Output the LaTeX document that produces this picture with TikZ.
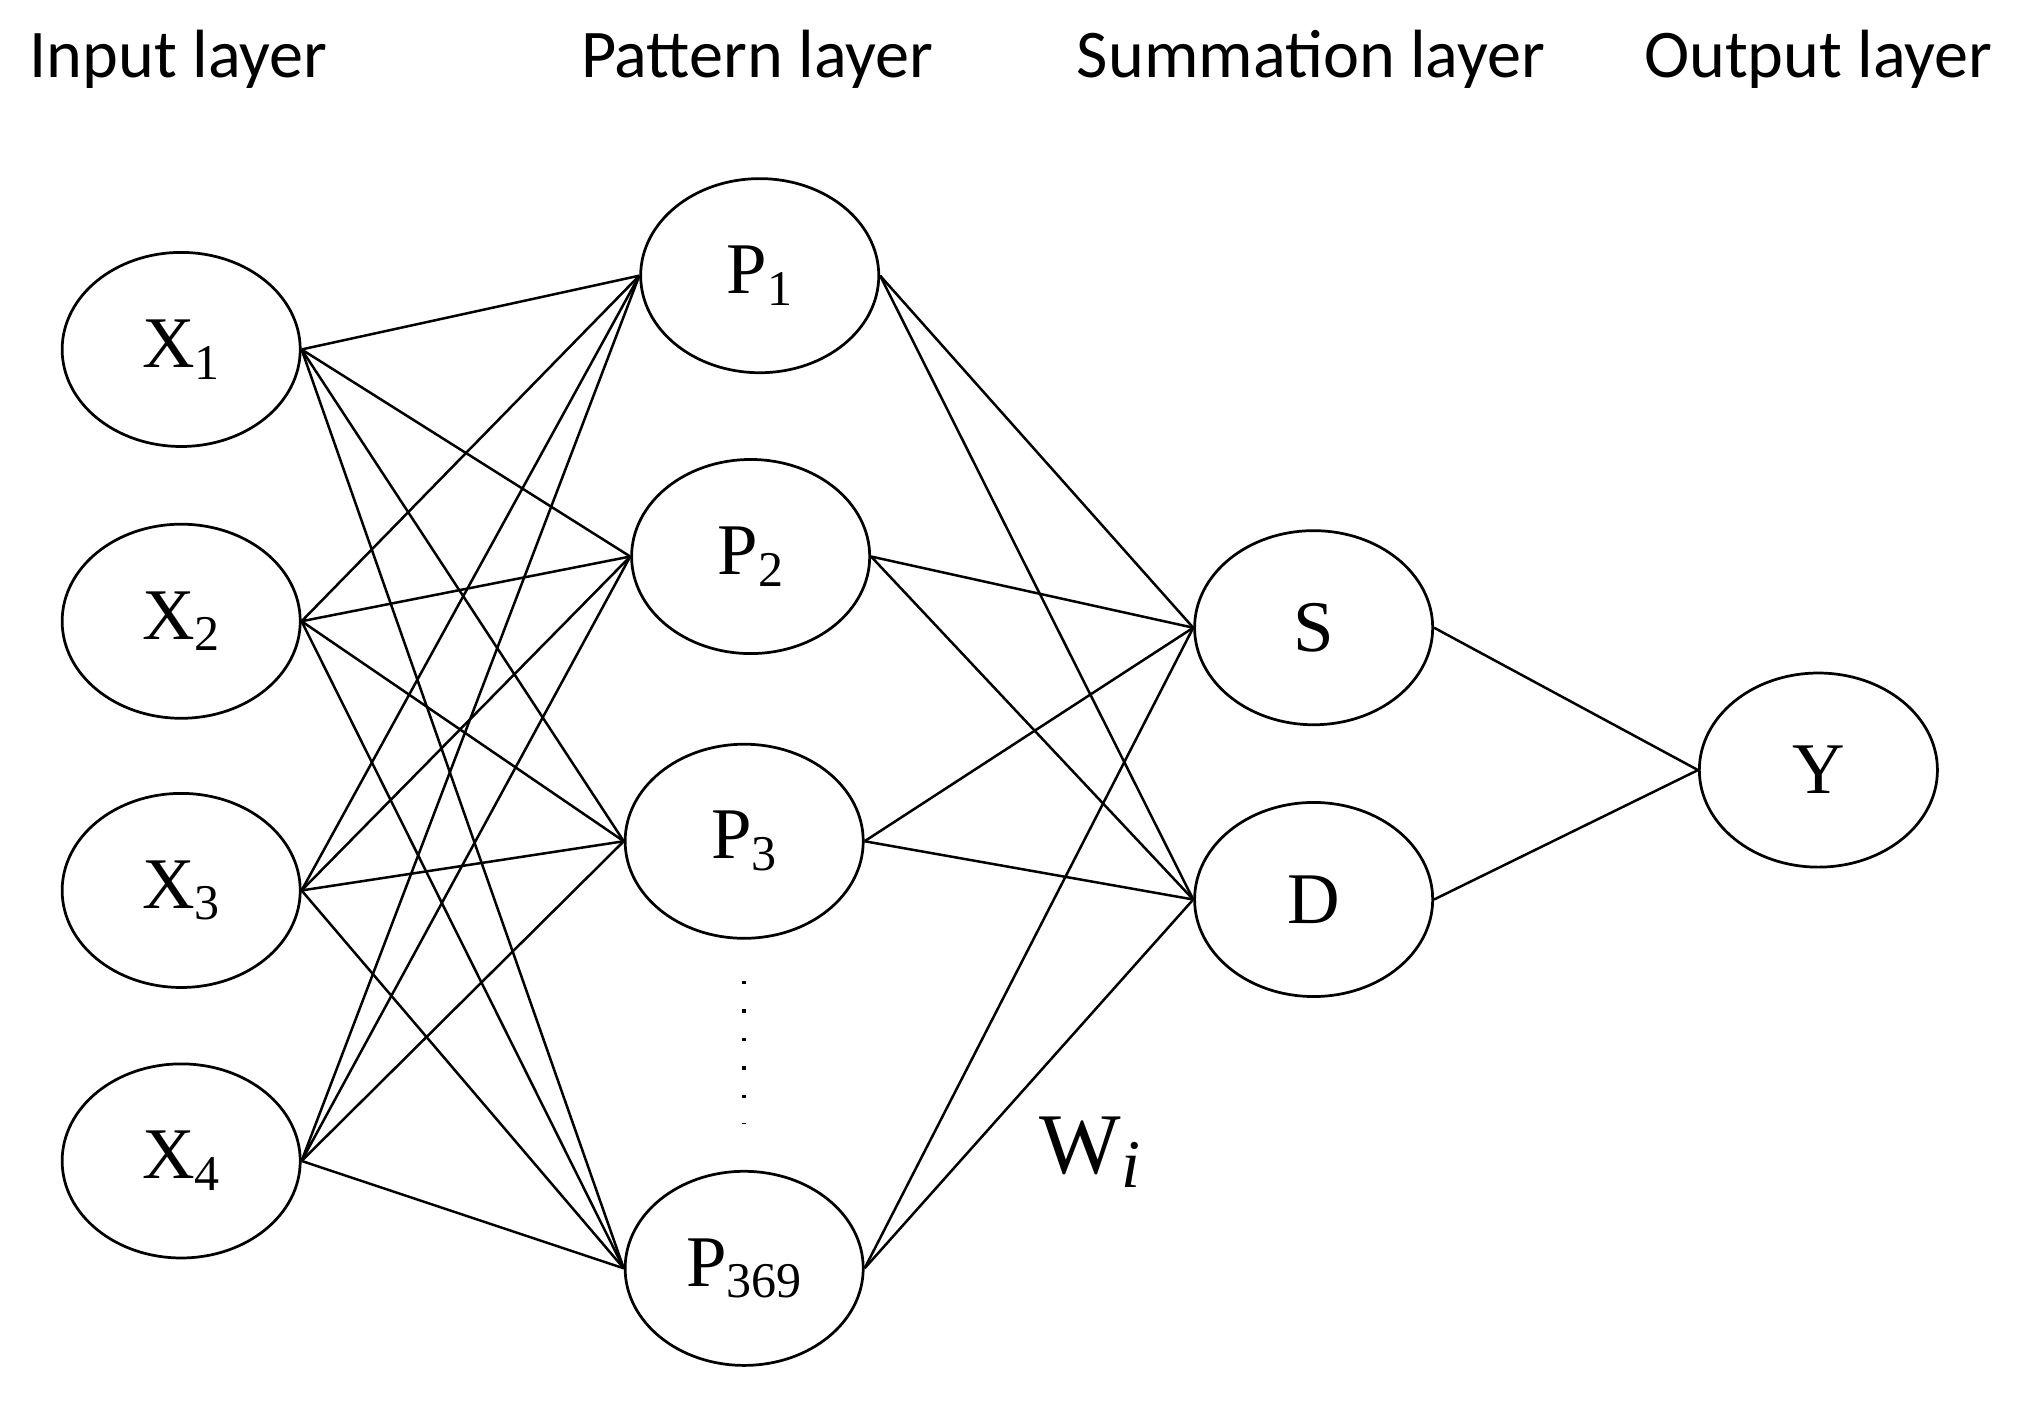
\documentclass[tikz,border=0pt]{standalone}
\usepackage{fontspec}
\usetikzlibrary{shapes.geometric}
\setmainfont{Liberation Serif}
\newfontfamily\lab{Carlito}
\newcommand{\sbs}[1]{\raisebox{-0.35ex}{\fontsize{22}{22}\selectfont #1}}
\begin{document}
\begin{tikzpicture}[x=0.02cm,y=-0.02cm,
  nd/.style={draw,line width=1.2pt,ellipse,minimum width=3.68cm,minimum height=3cm,inner sep=0pt,font=\fontsize{32}{34}\selectfont},
  ed/.style={line width=1.1pt},
  ttl/.style={font=\lab\fontsize{30}{32}\selectfont,anchor=base}]
\useasboundingbox (0,0) rectangle (1560,1082);
\node[ttl] at (138,60) {Input layer};
\node[ttl] at (585,60) {Pattern layer};
\node[ttl] at (1013,60) {Summation layer};
\node[ttl] at (1405,60) {Output layer};
\node[nd] (x1) at (140,270) {X\sbs{1}};
\node[nd] (x2) at (140,480) {X\sbs{2}};
\node[nd] (x3) at (140,688) {X\sbs{3}};
\node[nd] (x4) at (140,897) {X\sbs{4}};
\node[nd] (p1) at (587,213) {P\sbs{1}};
\node[nd] (p2) at (580,430) {P\sbs{2}};
\node[nd] (p3) at (575,650) {P\sbs{3}};
\node[nd] (p4) at (575,980) {P\sbs{369}};
\node[nd] (s) at (1015,485) {S};
\node[nd] (d) at (1015,695) {D};
\node[nd] (y) at (1405,595) {Y};
\draw[line width=1.5pt,dash pattern=on 1.5pt off 11pt] (575,758) -- (575,868);
\node[font=\fontsize{38}{40}\selectfont] at (842,890) {W\raisebox{-0.35ex}{\itshape\fontsize{30}{30}\selectfont i}};
\foreach \a in {x1,x2,x3,x4}{\foreach \b in {p1,p2,p3,p4}{\draw[ed] (\a.east) -- (\b.west);}}
\foreach \a in {p1,p2,p3,p4}{\foreach \b in {s,d}{\draw[ed] (\a.east) -- (\b.west);}}
\draw[ed] (s.east) -- (y.west);
\draw[ed] (d.east) -- (y.west);
\end{tikzpicture}
\end{document}
